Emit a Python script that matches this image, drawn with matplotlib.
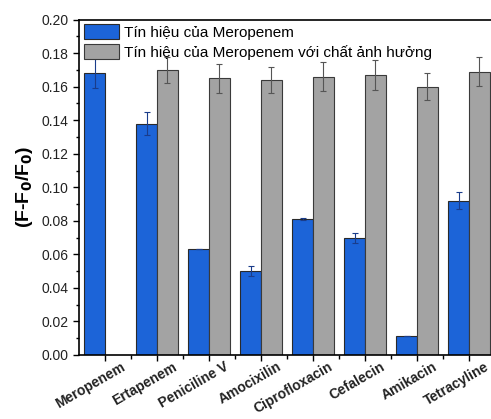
import matplotlib.pyplot as plt
import matplotlib.transforms as mtransforms
import numpy as np
from matplotlib.ticker import MultipleLocator

# tên các kháng sinh
categories = ["Meropenem", "Ertapenem", "Peniciline V", "Amocixilin",
              "Ciprofloxacin", "Cefalecin", "Amikacin", "Tetracyline"]

# tín hiệu của Meropenem
blue_vals = [0.168, 0.138, 0.063, 0.050, 0.081, 0.070, 0.0115, 0.092]
blue_err = [0.009, 0.007, 0.0, 0.003, 0.0005, 0.003, 0.0, 0.005]

# tín hiệu khi có chất ảnh hưởng
gray_vals = [np.nan, 0.170, 0.165, 0.164, 0.166, 0.167, 0.160, 0.169]
gray_err = [np.nan, 0.008, 0.0085, 0.008, 0.0085, 0.009, 0.008, 0.0085]

legend_labels = ["Tín hiệu của Meropenem", "Tín hiệu của Meropenem với chất ảnh hưởng"]

plt.rcParams['font.family'] = ['Liberation Sans', 'DejaVu Sans']

fig = plt.figure(figsize=(4.91, 4.19), dpi=100)
ax = fig.add_axes([0.161, 0.153, 0.847, 0.80])

x = np.arange(len(categories))
w = 0.4
ax.bar(x - w / 2, blue_vals, w, color="#1c64d8", edgecolor="#2a2a2a", linewidth=0.8,
       yerr=blue_err, ecolor="#1a3c8a", capsize=2, error_kw=dict(elinewidth=0.8, capthick=0.8),
       label=legend_labels[0])
ax.bar(x + w / 2, gray_vals, w, color="#a3a3a3", edgecolor="#3a3a3a", linewidth=0.8,
       yerr=gray_err, ecolor="#555555", capsize=2, error_kw=dict(elinewidth=0.8, capthick=0.8),
       label=legend_labels[1])

ax.set_xlim(-0.5, len(categories) - 0.5)
ax.set_ylim(0, 0.2)
ax.yaxis.set_major_locator(MultipleLocator(0.02))
ax.yaxis.set_minor_locator(MultipleLocator(0.01))
ax.set_xticks(x)
ax.set_xticks(x[:-1] + 0.5, minor=True)
ax.set_xticklabels([])

# nhãn trục x: xoay 30 độ, dời sang phải như hình gốc
offset = mtransforms.ScaledTranslation(0.19, -0.11, fig.dpi_scale_trans)
for i, name in enumerate(categories):
    ax.text(i, 0, name, transform=ax.get_xaxis_transform() + offset,
            rotation=30, ha="right", va="center", rotation_mode="anchor",
            fontsize=10, fontweight="bold", color="#222222")

ax.tick_params(axis="x", which="major", length=4, width=1)
ax.tick_params(axis="x", which="minor", length=3, width=1)
ax.tick_params(axis="y", which="major", length=4, width=1, labelsize=10, labelcolor="#222222")
ax.tick_params(axis="y", which="minor", length=2, width=1)
ax.set_yticklabels(["%.2f" % v for v in ax.get_yticks()])

for s in ax.spines.values():
    s.set_linewidth(1.2)

ax.set_ylabel(r"(F-F$_\mathbf{0}$/F$_\mathbf{0}$)", fontsize=14, fontweight="bold", labelpad=5)

ax.legend(loc="upper left", frameon=False, fontsize=11, handlelength=2.3, handleheight=1.1,
          borderaxespad=0.2, labelspacing=0.3, handletextpad=0.35, borderpad=0.1)

fig.savefig("out.png", dpi=100)
